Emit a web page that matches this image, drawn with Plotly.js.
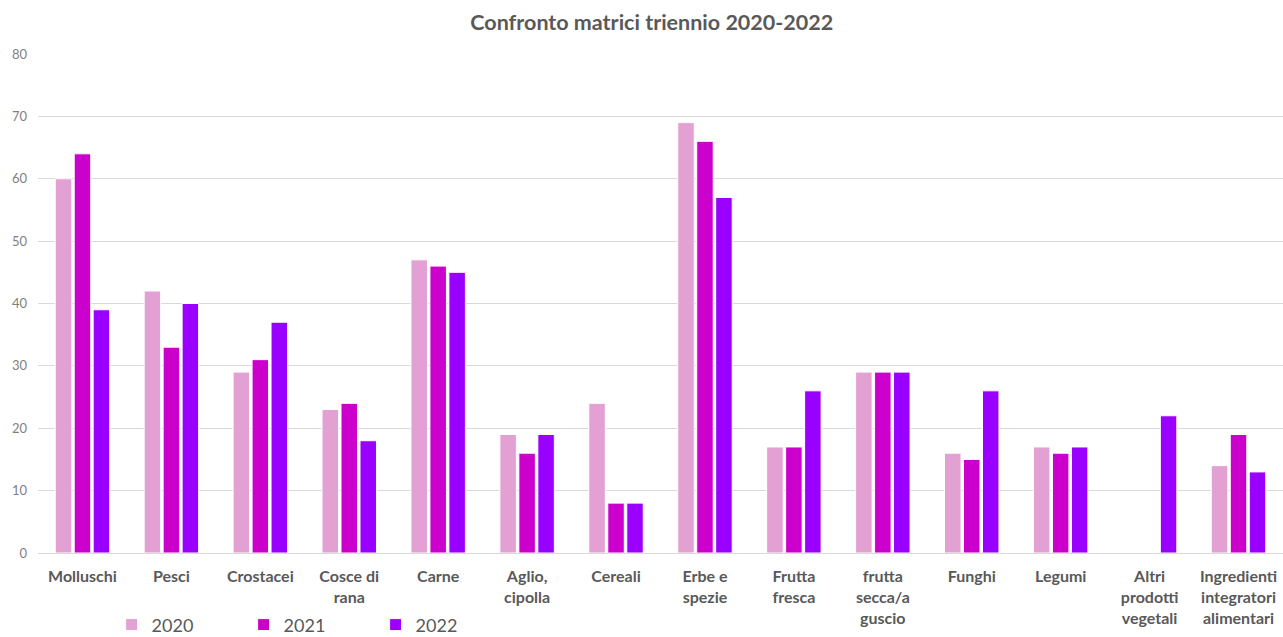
<!DOCTYPE html>
<html>
<head>
<meta charset="utf-8">
<script src="https://cdn.plot.ly/plotly-3.0.1.min.js"></script>
<style>html,body{margin:0;padding:0;background:#fff;}#chart{width:1283px;height:637px;}</style>
</head>
<body>
<div id="chart"></div>
<script>
const categories = ["Molluschi","Pesci","Crostacei","Cosce di<br>rana","Carne","Aglio,<br>cipolla","Cereali","Erbe e<br>spezie","Frutta<br>fresca","frutta<br>secca/a<br>guscio","Funghi","Legumi","Altri<br>prodotti<br>vegetali","Ingredienti<br>integratori<br>alimentari"];
const seriesNames = ["2020","2021","2022"];
const values2020 = [60,42,29,23,47,19,24,69,17,29,16,17,null,14];
const values2021 = [64,33,31,24,46,16,8,66,17,29,15,16,null,19];
const values2022 = [39,40,37,18,45,19,8,57,26,29,26,17,22,13];
const colors = ["#E2A0D3","#CC00CC","#9900FF"];

const allValues = [values2020, values2021, values2022];
const traces = allValues.map((v, i) => ({
  type: "bar",
  name: seriesNames[i],
  x: categories,
  y: v,
  marker: {color: colors[i], line: {color: "#ffffff", width: 1}},
  hoverinfo: "x+y+name"
}));

const layout = {
  width: 1283, height: 637,
  margin: {l: 38, r: 0, t: 54, b: 84, autoexpand: false},
  paper_bgcolor: "#ffffff", plot_bgcolor: "#ffffff",
  font: {family: "Lato, 'Open Sans', sans-serif", color: "#595959"},
  title: {text: "<b>Confronto matrici triennio 2020-2022</b>", x: 0.508, xanchor: "center", y: 0.965, yanchor: "middle", font: {size: 21.5, color: "#595959", family: "Lato, 'Open Sans', sans-serif"}},
  barmode: "group",
  bargap: 0.36,
  bargroupgap: 0.13,
  xaxis: {
    type: "category",
    tickfont: {size: 16, color: "#595959", family: "Lato, sans-serif", weight: "bold"},
    showgrid: false, zeroline: false, showline: false, ticks: "",
    ticklabelstandoff: 12,
    automargin: false
  },
  yaxis: {
    range: [0, 80], dtick: 10,
    showgrid: true, gridcolor: "#D9D9D9", gridwidth: 1,
    zeroline: true, zerolinecolor: "#D9D9D9", zerolinewidth: 1,
    showline: false, ticks: "",
    tickfont: {size: 13, color: "#7f7f7f"},
    ticklabelstandoff: 10,
    automargin: false
  },
  legend: {
    orientation: "h", xref: "container", yref: "container",
    x: 0.087, xanchor: "left", y: 0.019, yanchor: "middle",
    font: {size: 18, color: "#595959"},
    entrywidth: 87, entrywidthmode: "pixels",
    itemwidth: 30, traceorder: "normal", bgcolor: "rgba(0,0,0,0)"
  },
  showlegend: true
};

Plotly.newPlot("chart", traces, layout, {displayModeBar: false, staticPlot: true});
</script>
</body>
</html>
